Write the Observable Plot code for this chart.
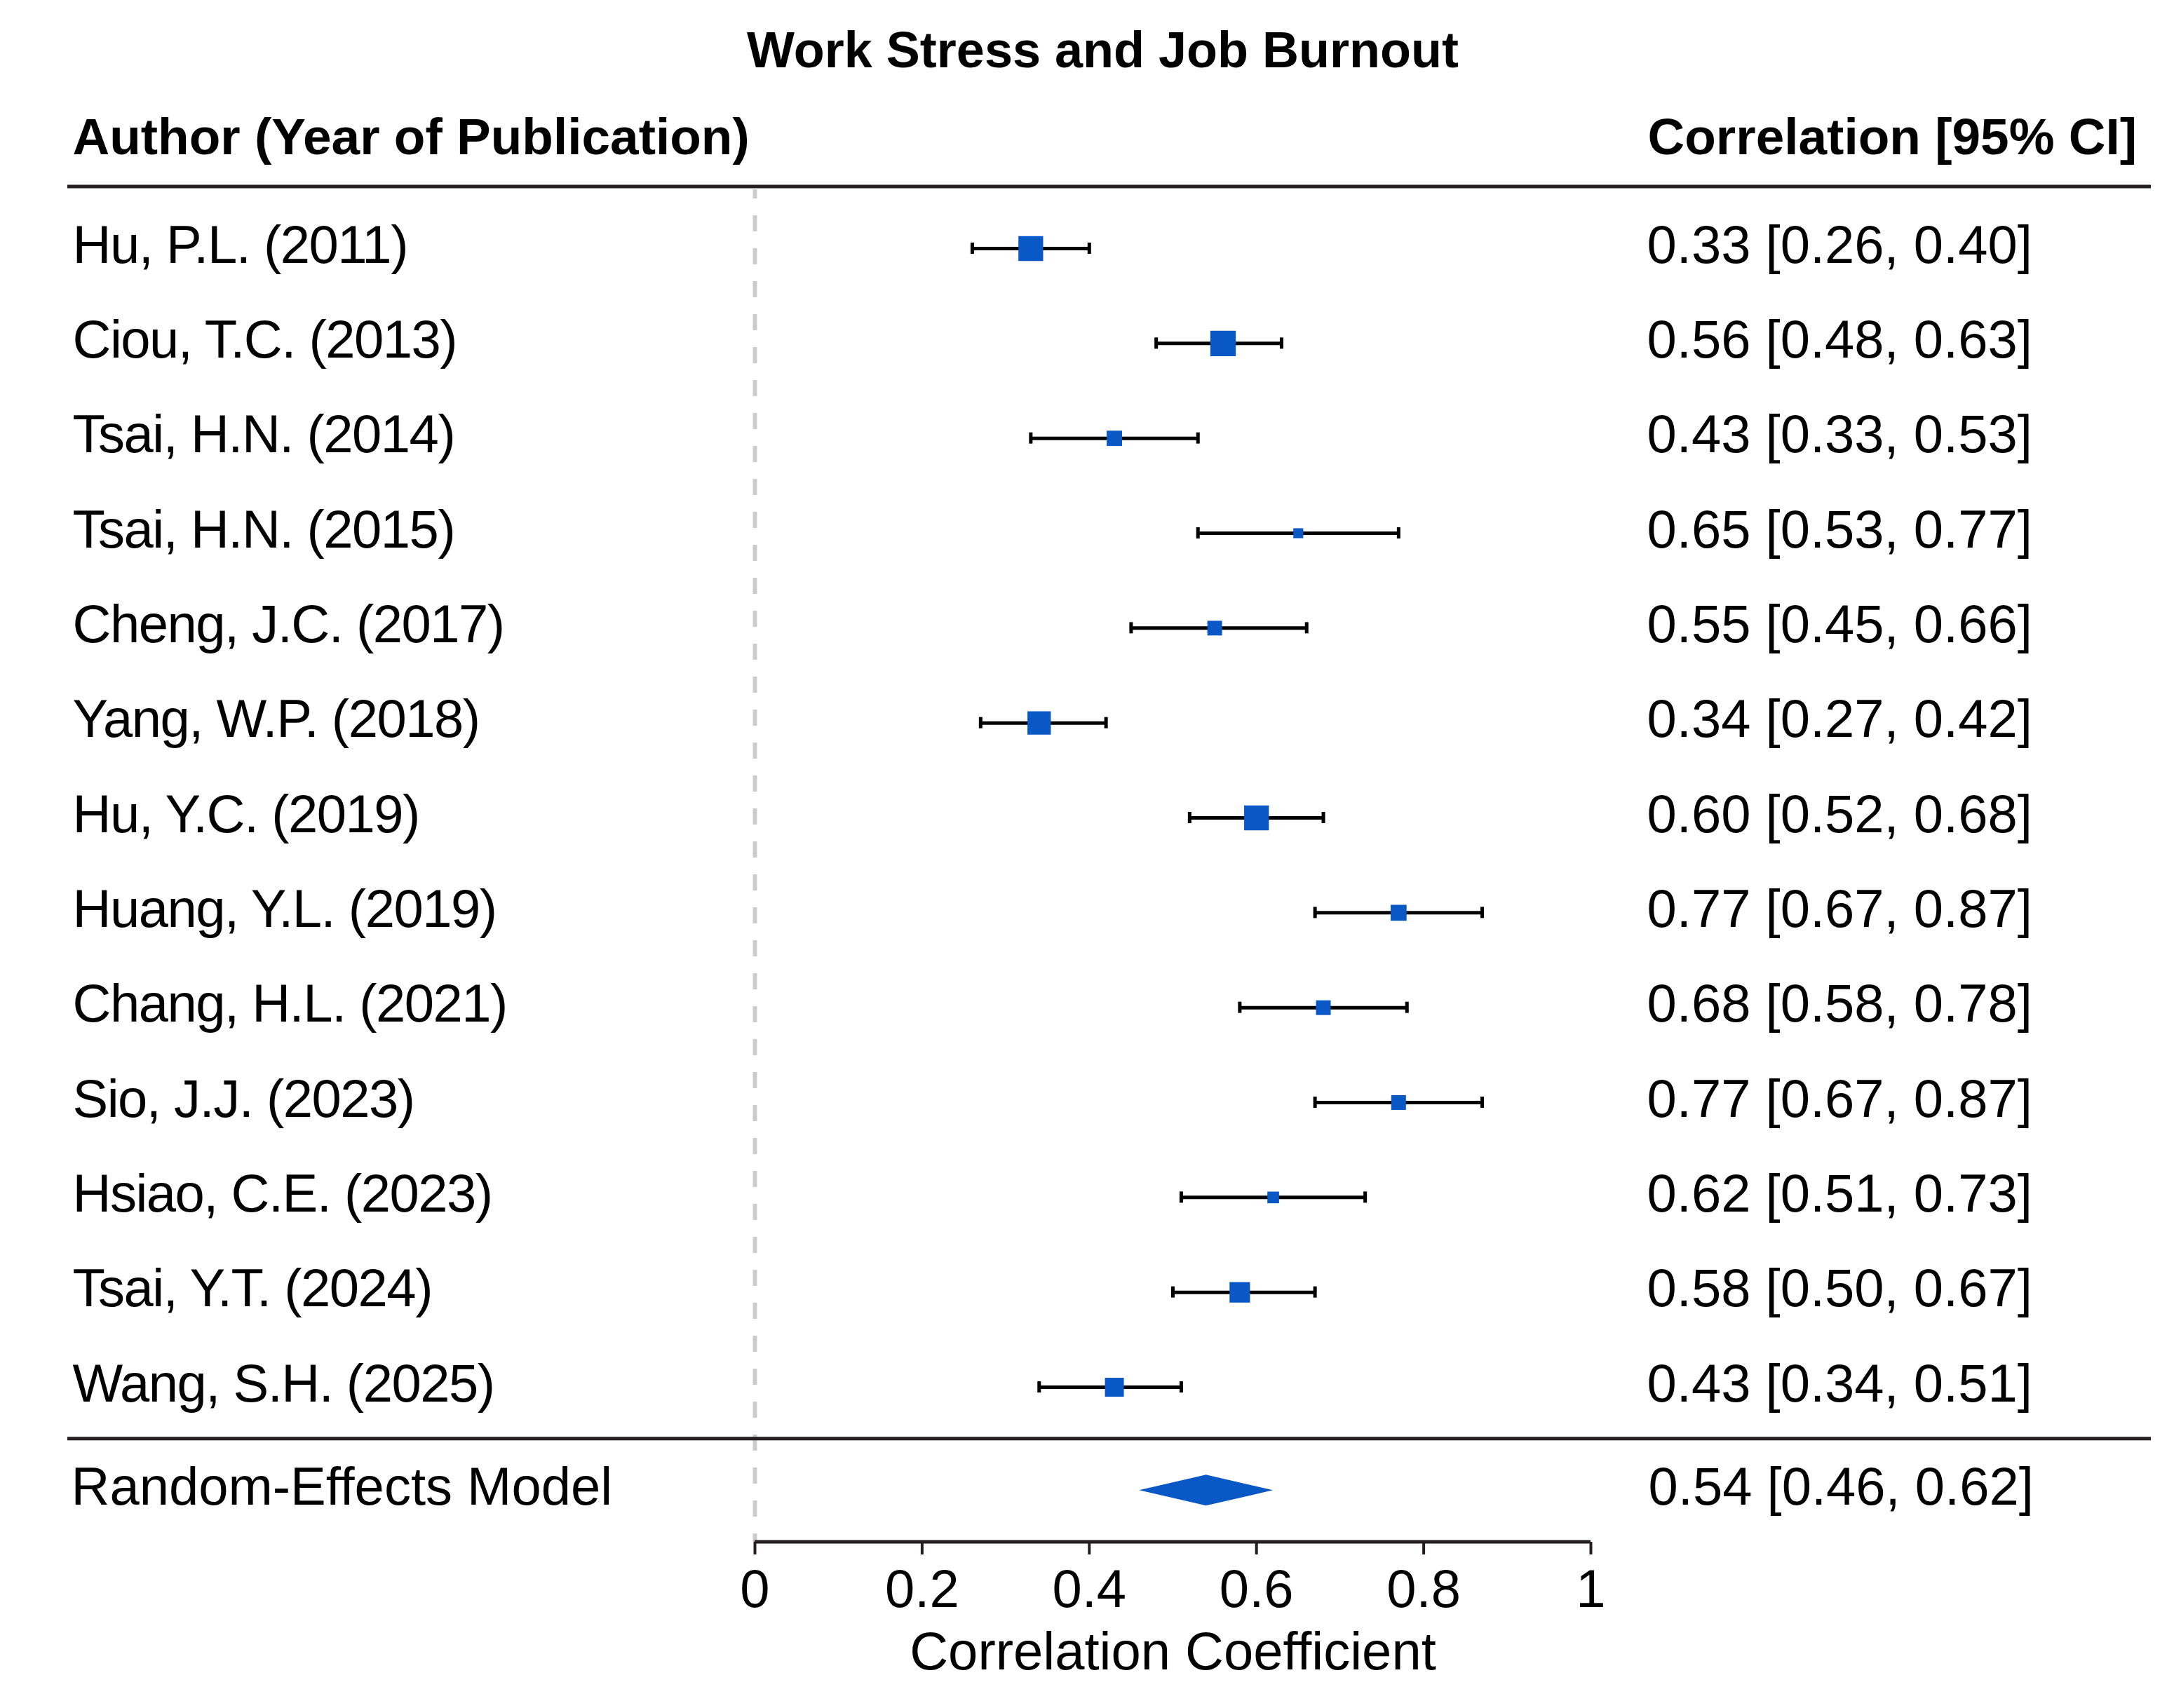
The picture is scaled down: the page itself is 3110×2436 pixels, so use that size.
<!DOCTYPE html>
<html>
<head>
<meta charset="utf-8">
<script src="https://cdn.jsdelivr.net/npm/d3@7"></script>
<script src="https://cdn.jsdelivr.net/npm/@observablehq/plot@0.6"></script>
<style>
  html, body { margin: 0; padding: 0; background: #ffffff; }
  #chart svg { display: block; }
</style>
</head>
<body>
<div id="chart"></div>
<script>
// ---------- data ----------
const title = "Work Stress and Job Burnout";
const leftHeader = "Author (Year of Publication)";
const rightHeader = "Correlation [95% CI]";
const xLabel = "Correlation Coefficient";

const authors = [
  "Hu, P.L. (2011)", "Ciou, T.C. (2013)", "Tsai, H.N. (2014)", "Tsai, H.N. (2015)",
  "Cheng, J.C. (2017)", "Yang, W.P. (2018)", "Hu, Y.C. (2019)", "Huang, Y.L. (2019)",
  "Chang, H.L. (2021)", "Sio, J.J. (2023)", "Hsiao, C.E. (2023)", "Tsai, Y.T. (2024)",
  "Wang, S.H. (2025)"
];
const estimates = [0.33, 0.56, 0.43, 0.65, 0.55, 0.34, 0.60, 0.77, 0.68, 0.77, 0.62, 0.58, 0.43];
const lower     = [0.26, 0.48, 0.33, 0.53, 0.45, 0.27, 0.52, 0.67, 0.58, 0.67, 0.51, 0.50, 0.34];
const upper     = [0.40, 0.63, 0.53, 0.77, 0.66, 0.42, 0.68, 0.87, 0.78, 0.87, 0.73, 0.67, 0.51];
// study weights (%)
const weights   = [13.0, 13.8, 5.0, 2.1, 4.6, 11.6, 13.0, 5.4, 4.6, 4.6, 2.9, 8.9, 7.6];

const pooledLabel = "Random-Effects Model";
const pooledEstimate = 0.54;
const pooledLower = 0.46;
const pooledUpper = 0.62;

const xTicks = [0, 0.2, 0.4, 0.6, 0.8, 1];

// ---------- styling ----------
const blue = "#0a57c6";
const ruleColor = "#231f20";
const font = "'Liberation Sans', Arial, Helvetica, sans-serif";
const W = 3110, H = 2436;
const mLeft = 1076, mRight = W - 2268, mTop = 270, mBottom = H - 2199;
const fs = 76, fsBold = 73;
const rowStep = (1978 - 354) / 12;
const pooledShift = 12;          // extra gap above the pooled row
const capHalf = 8;
const capInset = rowStep / 2 - capHalf;

const fmt = d3.format(".2f");
const rows = authors.map((a, i) => ({
  label: a, est: estimates[i], lo: lower[i], hi: upper[i], w: weights[i],
  ci: `${fmt(estimates[i])} [${fmt(lower[i])}, ${fmt(upper[i])}]`
}));
const pooledRow = {
  label: pooledLabel, est: pooledEstimate, lo: pooledLower, hi: pooledUpper,
  ci: `${fmt(pooledEstimate)} [${fmt(pooledLower)}, ${fmt(pooledUpper)}]`
};
const allRows = [...rows, pooledRow];

function yCenter(scales, label) {
  const bw = scales.y.bandwidth ? scales.y.bandwidth() : 0;
  return scales.y(label) + bw / 2;
}

// horizontal table rules + axis line
function tableRules(index, scales, values, dims) {
  const g = d3.create("svg:g").attr("stroke", ruleColor).attr("stroke-width", 5);
  const left = 96, right = dims.width - 43;
  const top = dims.marginTop - 4;
  const sep = (yCenter(scales, authors[authors.length - 1]) + yCenter(scales, pooledLabel) + pooledShift) / 2;
  const yAxis = dims.height - dims.marginBottom;
  g.append("line").attr("x1", left).attr("x2", right).attr("y1", top).attr("y2", top);
  g.append("line").attr("x1", left).attr("x2", right).attr("y1", sep).attr("y2", sep);
  g.append("line").attr("x1", scales.x(xTicks[0])).attr("x2", scales.x(xTicks[xTicks.length - 1]))
    .attr("y1", yAxis).attr("y2", yAxis);
  return g.node();
}

// pooled diamond
function pooledDiamond(index, scales) {
  const y = yCenter(scales, pooledLabel) + pooledShift, h = 22;
  const pts = [
    [scales.x(pooledLower), y],
    [scales.x(pooledEstimate), y - h],
    [scales.x(pooledUpper), y],
    [scales.x(pooledEstimate), y + h]
  ];
  return d3.create("svg:path").attr("d", "M" + pts.join("L") + "Z").attr("fill", blue).node();
}

const chart = Plot.plot({
  width: W,
  height: H,
  marginLeft: mLeft,
  marginRight: mRight,
  marginTop: mTop,
  marginBottom: mBottom,
  style: { fontFamily: font, fontSize: fs + "px", background: "#ffffff", color: "#000000" },
  x: { domain: [0, 1] },
  y: { type: "band", domain: allRows.map(d => d.label), range: [354 - rowStep / 2, 354 - rowStep / 2 + 14 * rowStep], padding: 0, round: false, axis: null },
  r: { type: "sqrt", domain: [0, d3.max(weights)], range: [0, 20.5] },
  marks: [
    Plot.ruleX([0], { stroke: "#cccccc", strokeWidth: 6, strokeDasharray: "23,24", strokeDashoffset: 10 }),
    tableRules,
    Plot.axisX({
      ticks: xTicks, tickFormat: d3.format("~g"), tickSize: 18, tickPadding: 21,
      stroke: ruleColor, fill: "#000000", strokeWidth: 4, fontSize: fs, label: null
    }),
    Plot.text([xLabel], { text: d => d, frameAnchor: "bottom", lineAnchor: "middle", dy: 157, fontSize: fs, fill: "#000000" }),
    Plot.ruleY(rows, { y: "label", x1: "lo", x2: "hi", stroke: "#000000", strokeWidth: 5 }),
    Plot.tickX(rows, { x: "lo", y: "label", stroke: "#000000", strokeWidth: 5, insetTop: capInset, insetBottom: capInset }),
    Plot.tickX(rows, { x: "hi", y: "label", stroke: "#000000", strokeWidth: 5, insetTop: capInset, insetBottom: capInset }),
    Plot.dot(rows, { x: "est", y: "label", r: "w", symbol: "square", fill: blue, stroke: null }),
    pooledDiamond,
    // columns
    Plot.text(rows, { y: "label", text: "label", frameAnchor: "left", lineAnchor: "middle", textAnchor: "start", dx: 103 - mLeft, dy: -4, fontSize: fs, fill: "#000000" }),
    Plot.text([pooledRow], { y: "label", text: "label", frameAnchor: "left", lineAnchor: "middle", textAnchor: "start", dx: 101 - mLeft, dy: pooledShift - 4, fontSize: fs, fill: "#000000" }),
    Plot.text(rows, { y: "label", text: "ci", frameAnchor: "right", lineAnchor: "middle", textAnchor: "start", dx: 2348 - (W - mRight), dy: -4, fontSize: fs, fill: "#000000" }),
    Plot.text([pooledRow], { y: "label", text: "ci", frameAnchor: "right", lineAnchor: "middle", textAnchor: "start", dx: 2350 - (W - mRight), dy: pooledShift - 4, fontSize: fs, fill: "#000000" }),
    // headers and title
    Plot.text([leftHeader], { text: d => d, frameAnchor: "top-left", lineAnchor: "middle", textAnchor: "start", dx: 103 - mLeft, dy: 196 - mTop, fontSize: fsBold, fontWeight: "bold", fill: "#000000" }),
    Plot.text([rightHeader], { text: d => d, frameAnchor: "top-right", lineAnchor: "middle", textAnchor: "start", dx: 2349 - (W - mRight), dy: 196 - mTop, fontSize: fsBold, fontWeight: "bold", fill: "#000000" }),
    Plot.text([title], { text: d => d, frameAnchor: "top", lineAnchor: "middle", dx: 1572 - (mLeft + (W - mRight)) / 2, dy: 72 - mTop, fontSize: 72, fontWeight: "bold", fill: "#000000" })
  ]
});

// tighter tracking for the study names, as in the reference typeface
d3.select(chart).selectAll("text")
  .filter(function () { return authors.includes(this.textContent); })
  .attr("letter-spacing", "-1.5px");

document.getElementById("chart").appendChild(chart);
</script>
</body>
</html>
